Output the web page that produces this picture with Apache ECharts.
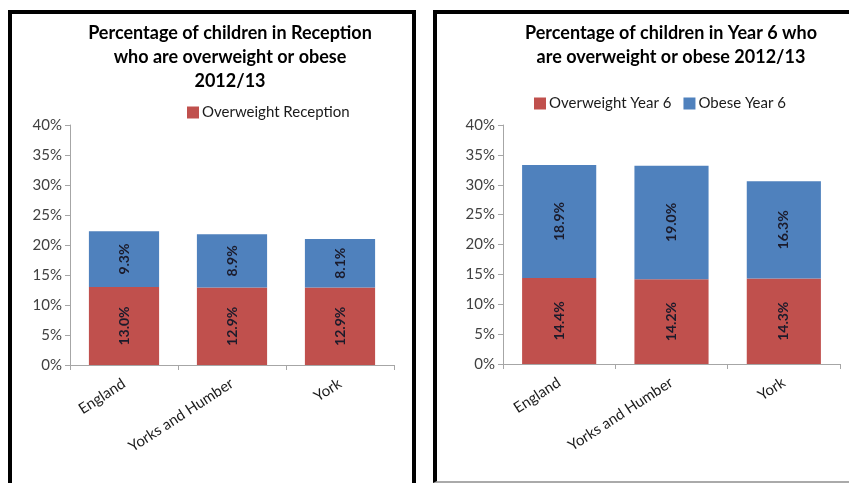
<!DOCTYPE html>
<html>
<head>
<meta charset="utf-8">
<script src="https://cdn.jsdelivr.net/npm/echarts@6/dist/echarts.min.js"></script>
<style>
  body { margin: 0; background: #fff; }
  #wrap { position: relative; width: 849px; height: 483px; overflow: hidden; }
  .box { position: absolute; box-sizing: border-box; border: 4px solid #000; }
  #main { position: absolute; left: 0; top: 0; width: 849px; height: 483px; }
</style>
</head>
<body>
<div id="wrap">
  <div class="box" style="left:8px; top:10px; width:408px; height:490px;"></div>
  <div class="box" style="left:433px; top:10px; width:430px; height:473px; border-bottom:2px solid #aaa; border-right:none;"></div>
  <div id="main"></div>
</div>
<script>
var areas = ['England', 'Yorks and Humber', 'York']
var yTicks = ['0%', '5%', '10%', '15%', '20%', '25%', '30%', '35%', '40%']
var overweightReception = [13.0, 12.9, 12.9]
var obeseReception = [9.3, 8.9, 8.1]
var overweightYear6 = [14.4, 14.2, 14.3]
var obeseYear6 = [18.9, 19.0, 16.3]

var red = '#C0504D'
var blue = '#4F81BD'
var fontFam = 'Lato, "Open Sans", sans-serif'

function barLabel () {
  return {
    show: true,
    position: 'inside',
    rotate: 90,
    color: '#1b1b2b',
    fontWeight: 'bold',
    fontSize: 14,
    fontFamily: fontFam,
    formatter: function (p) { return p.value.toFixed(1) + '%' }
  }
}

function xAxisFor (idx) {
  return {
    type: 'category',
    gridIndex: idx,
    data: areas,
    axisLine: { lineStyle: { color: '#a6a6a6' } },
    axisTick: { show: true, alignWithLabel: false, length: 5, lineStyle: { color: '#a6a6a6' } },
    axisLabel: { rotate: 33, color: '#1a1a1a', fontSize: 15, fontFamily: fontFam, margin: 17 }
  }
}

function yAxisFor (idx) {
  return {
    type: 'value',
    gridIndex: idx,
    min: 0,
    max: 40,
    interval: 5,
    axisLine: { show: true, lineStyle: { color: '#a6a6a6' } },
    axisTick: { show: true, length: 5, lineStyle: { color: '#a6a6a6' } },
    splitLine: { show: false },
    axisLabel: {
      color: '#404040',
      fontSize: 15,
      fontFamily: fontFam,
      margin: 8,
      formatter: function (v) { return yTicks[v / 5] }
    }
  }
}

var chart = echarts.init(document.getElementById('main'))
chart.setOption({
  animation: false,
  title: [{
    text: 'Percentage of children in Reception\nwho are overweight or obese\n2012/13',
    left: 225,
    top: 16,
    textAlign: 'center',
    textStyle: { fontFamily: fontFam, fontSize: 18, fontWeight: 'bold', color: '#000', lineHeight: 24 }
  }, {
    text: 'Percentage of children in Year 6 who\nare overweight or obese 2012/13',
    left: 666,
    top: 16,
    textAlign: 'center',
    textStyle: { fontFamily: fontFam, fontSize: 18, fontWeight: 'bold', color: '#000', lineHeight: 24 }
  }],
  legend: [{
    data: ['Overweight Reception'],
    left: 182,
    top: 100,
    icon: 'rect',
    itemWidth: 12,
    itemHeight: 12,
    itemGap: 10,
    textStyle: { fontFamily: fontFam, fontSize: 15, color: '#1a1a1a', padding: [0, 0, 0, -2] }
  }, {
    data: ['Overweight Year 6', 'Obese Year 6'],
    left: 529,
    top: 91,
    icon: 'rect',
    itemWidth: 12,
    itemHeight: 12,
    itemGap: 12,
    textStyle: { fontFamily: fontFam, fontSize: 15, color: '#1a1a1a', padding: [0, 0, 0, -2] }
  }],
  grid: [
    { left: 70, top: 125, width: 324, height: 240 },
    { left: 503, top: 125, width: 337, height: 239 }
  ],
  xAxis: [xAxisFor(0), xAxisFor(1)],
  yAxis: [yAxisFor(0), yAxisFor(1)],
  series: [
    {
      name: 'Overweight Reception',
      type: 'bar',
      stack: 'rec',
      xAxisIndex: 0,
      yAxisIndex: 0,
      barCategoryGap: '35%',
      data: overweightReception,
      itemStyle: { color: red },
      label: barLabel()
    },
    {
      name: 'Obese Reception',
      type: 'bar',
      stack: 'rec',
      xAxisIndex: 0,
      yAxisIndex: 0,
      barCategoryGap: '35%',
      data: obeseReception,
      itemStyle: { color: blue },
      label: barLabel()
    },
    {
      name: 'Overweight Year 6',
      type: 'bar',
      stack: 'y6',
      xAxisIndex: 1,
      yAxisIndex: 1,
      barCategoryGap: '34%',
      data: overweightYear6,
      itemStyle: { color: red },
      label: barLabel()
    },
    {
      name: 'Obese Year 6',
      type: 'bar',
      stack: 'y6',
      xAxisIndex: 1,
      yAxisIndex: 1,
      barCategoryGap: '34%',
      data: obeseYear6,
      itemStyle: { color: blue },
      label: barLabel()
    }
  ]
})
</script>
</body>
</html>
